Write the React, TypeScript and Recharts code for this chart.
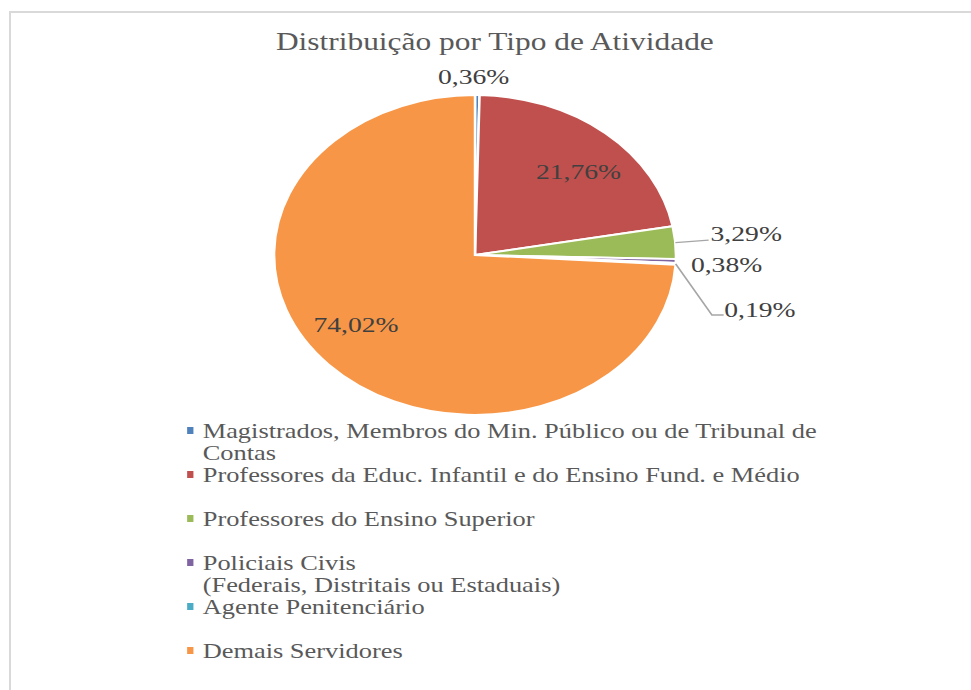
import React from 'react'
import { PieChart, Pie, Legend } from 'recharts'

// categories and shares (%)
const CATEGORIES = [
  'Magistrados, Membros do Min. Público ou de Tribunal de Contas',
  'Professores da Educ. Infantil e do Ensino Fund. e Médio',
  'Professores do Ensino Superior',
  'Policiais Civis\n(Federais, Distritais ou Estaduais)',
  'Agente Penitenciário',
  'Demais Servidores',
]
const SHARES = [0.36, 21.76, 3.29, 0.38, 0.19, 74.02]
const COLORS = ['#4F81BD', '#C0504D', '#9BBB59', '#8064A2', '#4BACC6', '#F79646']

const TITLE = 'Distribuição por Tipo de Atividade'

// the original image is stretched horizontally, so the whole chart is drawn
// narrow and scaled on x
const STRETCH = 1.256
const W = 773
const H = 690
const FONT = '"Liberation Serif", "Times New Roman", serif'

// label placement: radial ones sit at r from center (plus a nudge),
// the small slices get a leader line from the slice edge
const LABEL_PLACE: any[] = [
  { mode: 'radial', r: 171, dx: -3, dy: 0 },
  { mode: 'radial', r: 110, dx: 11, dy: 8 },
  { mode: 'edge', line: [[26.5, -2.5]], text: [28, -1.8] },
  { mode: 'edge', line: [], text: [12, 10.6] },
  { mode: 'edge', line: [[28.9, 51.1], [38.2, 51.1]], text: [38.7, 52.8] },
  { mode: 'radial', r: 120, dx: -7.3, dy: -4.9 },
]

const data = CATEGORIES.map((name, i) => ({ name, value: SHARES[i], fill: COLORS[i] }))

const RADIAN = Math.PI / 180

const renderLabel = (props: any) => {
  const { cx, cy, midAngle, outerRadius, index, value } = props
  const place = LABEL_PLACE[index]
  const text = value.toFixed(2).replace('.', ',') + '%'
  const cos = Math.cos(-midAngle * RADIAN)
  const sin = Math.sin(-midAngle * RADIAN)
  if (place.mode === 'radial') {
    const x = cx + place.r * cos + place.dx
    const y = cy + place.r * sin + place.dy
    return (
      <text key={`l-${index}`} x={x} y={y} textAnchor="middle" fill="#404040" fontFamily={FONT} fontSize={22}>
        {text}
      </text>
    )
  }
  const ex = cx + outerRadius * cos
  const ey = cy + outerRadius * sin
  const pts = [[ex, ey], ...place.line.map((p: number[]) => [ex + p[0], ey + p[1]])]
  return (
    <g key={`l-${index}`}>
      {pts.length > 1 && (
        <polyline
          points={pts.map((p) => p.join(',')).join(' ')}
          fill="none"
          stroke="#a6a6a6"
          strokeWidth={1.4}
        />
      )}
      <text x={ex + place.text[0]} y={ey + place.text[1]} textAnchor="start" fill="#404040" fontFamily={FONT} fontSize={22}>
        {text}
      </text>
    </g>
  )
}

const renderLegend = (props: any) => {
  // keep the data order (the legend sorts by name otherwise)
  const payload = [...(props.payload || [])].sort(
    (a: any, b: any) => CATEGORIES.indexOf(a.value) - CATEGORIES.indexOf(b.value)
  )
  return (
    <div style={{ fontFamily: FONT, fontSize: 21, color: '#595959' }}>
      {payload.map((entry: any, i: number) => (
        <div key={i} style={{ position: 'relative', height: 44, paddingLeft: 12.8 }}>
          <span
            style={{
              position: 'absolute',
              left: 0,
              top: 7.5,
              width: 5.6,
              height: 7,
              background: entry.color || COLORS[i],
            }}
          />
          <div style={{ lineHeight: '22px', whiteSpace: 'pre-line', width: 515 }}>{entry.value}</div>
        </div>
      ))}
    </div>
  )
}

export default function App() {
  return (
    <div style={{ position: 'relative', width: 971, height: 690, overflow: 'hidden', background: '#fff' }}>
      <style>{'body{margin:0}'}</style>
      <div
        style={{
          position: 'absolute',
          left: 9,
          top: 11,
          width: 1000,
          height: 700,
          borderLeft: '2px solid #d9d9d9',
          borderTop: '2px solid #d9d9d9',
        }}
      />
      <div
        style={{
          position: 'absolute',
          left: 0,
          top: 0,
          width: W,
          height: H,
          transform: `scaleX(${STRETCH})`,
          transformOrigin: '0 0',
        }}
      >
        <div
          style={{
            position: 'absolute',
            left: 0,
            top: 27,
            width: 788,
            textAlign: 'center',
            fontFamily: FONT,
            fontSize: 25,
            lineHeight: '30px',
            color: '#595959',
            whiteSpace: 'nowrap',
          }}
        >
          {TITLE}
        </div>
        <PieChart width={W} height={H} margin={{ top: 0, right: 0, bottom: 0, left: 0 }}>
          <Pie
            data={data}
            dataKey="value"
            nameKey="name"
            cx={378.2}
            cy={255}
            outerRadius={160}
            startAngle={90}
            endAngle={-270}
            stroke="#ffffff"
            strokeWidth={2}
            labelLine={false}
            label={renderLabel}
            isAnimationActive={false}
          />
          <Legend
            layout="vertical"
            verticalAlign="bottom"
            align="center"
            content={renderLegend}
            wrapperStyle={{ left: 148.6, top: 419.5, bottom: 'auto', width: 600 }}
          />
        </PieChart>
      </div>
    </div>
  )
}
